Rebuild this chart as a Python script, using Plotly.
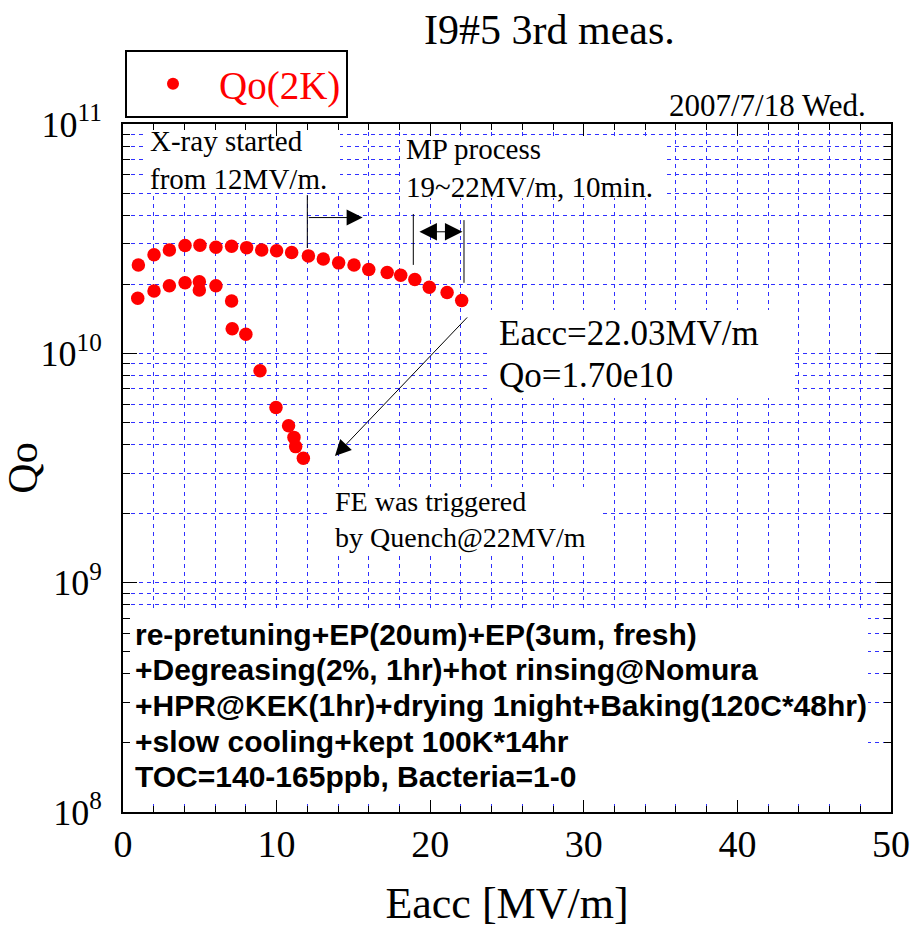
import plotly.graph_objects as go

# ---- data ----
eacc_before = [1.0, 2.02, 3.02, 4.04, 5.01, 6.05, 7.07, 8.05, 9.03, 10.0, 10.98,
               12.07, 13.04, 14.04, 15.04, 16.0, 17.2, 18.08, 19.0, 19.94, 21.1, 22.05]
qo_before = [2.43e10, 2.69e10, 2.82e10, 2.95e10, 2.96e10, 2.90e10, 2.93e10, 2.89e10,
             2.82e10, 2.80e10, 2.75e10, 2.66e10, 2.58e10, 2.48e10, 2.43e10, 2.32e10,
             2.25e10, 2.19e10, 2.10e10, 1.94e10, 1.84e10, 1.70e10]
eacc_after = [0.96, 2.02, 3.02, 4.04, 4.97, 4.97, 6.05, 7.07, 7.11, 8.0, 8.92, 9.96,
              10.78, 11.13, 11.24, 11.74]
qo_after = [1.74e10, 1.87e10, 1.97e10, 2.03e10, 2.05e10, 1.89e10, 1.97e10, 1.69e10,
            1.28e10, 1.21e10, 8.4e9, 5.8e9, 4.83e9, 4.30e9, 3.92e9, 3.49e9]

x_ticks = [0, 10, 20, 30, 40, 50]
y_ticks = [1e8, 1e9, 1e10, 1e11]
y_ticktext = ["10<sup>8</sup>", "10<sup>9</sup>", "10<sup>10</sup>", "10<sup>11</sup>"]
y_minor = [k * 10 ** e for e in (8, 9, 10) for k in range(2, 10)]

block_lines = [
    "re-pretuning+EP(20um)+EP(3um, fresh)",
    "+Degreasing(2%, 1hr)+hot rinsing@Nomura",
    "+HPR@KEK(1hr)+drying 1night+Baking(120C*48hr)",
    "+slow cooling+kept 100K*14hr",
    "TOC=140-165ppb, Bacteria=1-0",
]

SERIF = "Liberation Serif"
SANS = "Liberation Sans"
GRID = "#3030ff"

# plot-area geometry in pixels (for converting annotation positions)
L, R, T, B = 123, 891, 124, 812
W, H = 913, 928
X_RANGE = (0, 50)
LOG_RANGE = (8, 11)


def px(x):
    return (x - L) / (R - L)


def py(y):
    return (B - y) / (B - T)


def to_x(p):
    return X_RANGE[0] + px(p) * (X_RANGE[1] - X_RANGE[0])


def to_q(p):
    return 10 ** (LOG_RANGE[0] + py(p) * (LOG_RANGE[1] - LOG_RANGE[0]))


fig = go.Figure()

# white backgrounds behind the text notes (hide the grid there)
for x0, x1, y0, y1 in [(143, 340, 192, 127), (400, 665, 198, 136),
                       (490, 792, 398, 310), (328, 600, 553, 487),
                       (125, 868, 800, 612)]:
    fig.add_trace(go.Scatter(
        x=[to_x(x0), to_x(x1), to_x(x1), to_x(x0), to_x(x0)],
        y=[to_q(y0), to_q(y0), to_q(y1), to_q(y1), to_q(y0)],
        mode="lines", fill="toself", fillcolor="white", line=dict(width=0),
        showlegend=False, hoverinfo="skip"))

fig.add_trace(go.Scatter(
    x=eacc_before + eacc_after, y=qo_before + qo_after, mode="markers",
    name="Qo(2K)", marker=dict(color="#ff0000", size=13.5)))

# thin black marker lines of the annotations (data coordinates)
for xs, ys in [([12, 12], [4.9e10, 2.88e10]),
               ([18.9, 18.9], [4.05e10, 2.43e10]),
               ([22.2, 22.2], [3.81e10, 2.03e10])]:
    fig.add_trace(go.Scatter(x=xs, y=ys, mode="lines", showlegend=False,
                             hoverinfo="skip", line=dict(color="black", width=1)))

ann = []


def text(t, x, y, size, xanchor="left", family=SERIF, color="black", bold=False):
    ann.append(dict(text=("<b>%s</b>" % t) if bold else t, xref="paper", yref="paper",
                    x=px(x), y=py(y), xanchor=xanchor, yanchor="middle",
                    showarrow=False, align="left",
                    font=dict(family=family, size=size, color=color)))


text("I9#5 3rd meas.", 549, 30, 42, xanchor="center")
text("2007/7/18 Wed.", 868, 106, 31, xanchor="right")
text("X-ray started<br>from 12MV/m.", 148, 160, 29)
text("MP process<br>19~22MV/m, 10min.", 404, 168, 29)
text("Eacc=22.03MV/m", 497, 333, 35)
text("Qo=1.70e10", 497, 375, 35)
text("FE was triggered<br>by Quench@22MV/m", 333, 519, 28)
for i, line in enumerate(block_lines):
    text(line, 133, 634 + i * 35.7, 30, family=SANS, bold=True)

# arrows (log-axis annotations use log10 of y)
ann.append(dict(x=15.6, y=10.592, ax=12, ay=10.592, xref="x", yref="y",
                axref="x", ayref="y", text="", showarrow=True, arrowhead=2,
                arrowsize=3.2, arrowwidth=1, arrowcolor="black"))
ann.append(dict(x=22.1, y=10.530, ax=19.2, ay=10.530, xref="x", yref="y",
                axref="x", ayref="y", text="", showarrow=True, arrowhead=2,
                arrowside="end+start", arrowsize=3.5, arrowwidth=1,
                arrowcolor="black"))
ann.append(dict(x=13.8, y=9.552, ax=22.5, ay=10.163, xref="x", yref="y",
                axref="x", ayref="y", text="", showarrow=True, arrowhead=2,
                arrowsize=3.2, arrowwidth=1, arrowcolor="black"))

fig.update_layout(
    width=W, height=H,
    margin=dict(l=L, r=W - R, t=T, b=H - B, autoexpand=False),
    paper_bgcolor="white", plot_bgcolor="white",
    annotations=ann,
    showlegend=True,
    legend=dict(x=px(125), y=py(50), xanchor="left", yanchor="top",
                bordercolor="black", borderwidth=2, bgcolor="white",
                font=dict(family=SERIF, size=39, color="#ff0000"),
                itemwidth=82, itemsizing="constant"),
    font=dict(family=SERIF, color="black"),
)

fig.update_xaxes(
    range=list(X_RANGE), tickvals=x_ticks, ticks="inside", ticklen=12, tickwidth=1,
    tickcolor="black", showgrid=True, gridcolor=GRID, griddash="4px,4px", gridwidth=1,
    minor=dict(dtick=2, ticks="inside", ticklen=6, tickcolor="black",
               showgrid=True, gridcolor=GRID, griddash="4px,4px", gridwidth=1),
    showline=True, linecolor="black", linewidth=2, mirror="allticks", zeroline=False,
    tickfont=dict(family=SERIF, size=38), ticklabelstandoff=-3, automargin=False,
    title=dict(text="Eacc [MV/m]", font=dict(family=SERIF, size=44), standoff=40),
)
fig.update_yaxes(
    type="log", range=list(LOG_RANGE), tickvals=y_ticks, ticktext=y_ticktext,
    ticks="inside", ticklen=14, tickwidth=1, tickcolor="black",
    showgrid=True, gridcolor=GRID, griddash="4px,4px", gridwidth=1,
    minor=dict(tickvals=y_minor, ticks="inside", ticklen=7, tickcolor="black",
               showgrid=True, gridcolor=GRID, griddash="4px,4px", gridwidth=1),
    showline=True, linecolor="black", linewidth=2, mirror="allticks", zeroline=False,
    tickfont=dict(family=SERIF, size=36), ticklabelstandoff=12, automargin=False,
    title=dict(text="Qo", font=dict(family=SERIF, size=42), standoff=12),
)

fig.write_html("out.html")
